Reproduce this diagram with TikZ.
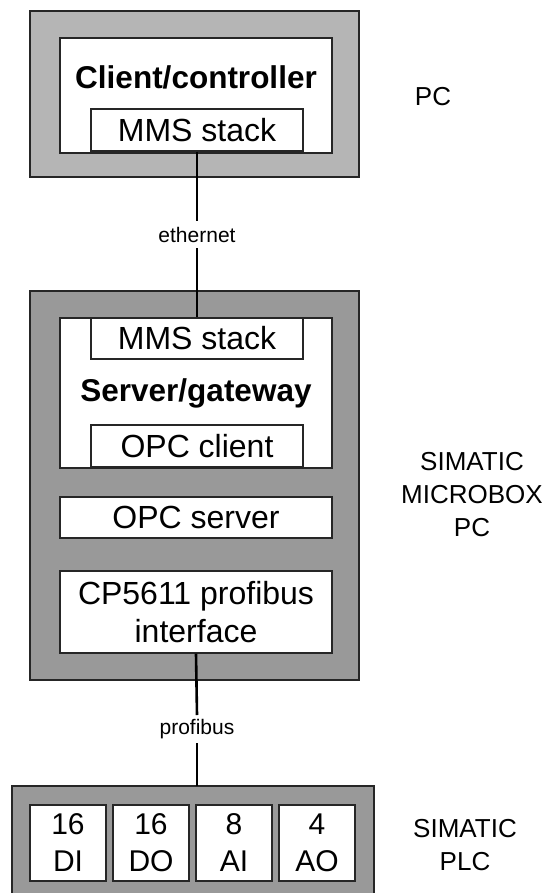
\documentclass[tikz,border=0pt]{standalone}
\usepackage{fontspec}
\setmainfont{Liberation Sans}
\definecolor{lightgrey}{gray}{0.71}
\definecolor{midgrey}{gray}{0.60}
\begin{document}
\begin{tikzpicture}[x=1pt,y=-1pt,
  outerbox/.style={draw=black!85,line width=1.3pt},
  whitebox/.style={draw=black!85,fill=white,line width=1.3pt},
  wire/.style={line width=2.6pt,black},
  bigbold/.style={font=\fontsize{31.5}{34}\selectfont\bfseries,inner sep=0pt},
  small/.style={font=\fontsize{21}{23}\selectfont,inner sep=0pt},
  side/.style={font=\fontsize{26}{33}\selectfont,align=center,inner sep=0pt}]
\useasboundingbox (0,0) rectangle (547,893);
% top PC
\draw[outerbox,fill=lightgrey] (30,11) rectangle (359,177);
\draw[whitebox] (60,38) rectangle (332,153);
\node[bigbold] (client) at (196,77) {Client/controller};
\node[whitebox,minimum width=212pt,minimum height=42pt,inner sep=0pt,font=\fontsize{32}{34}\selectfont] (mms1) at (197,130) {MMS stack};
% middle box
\draw[outerbox,fill=midgrey] (30,291) rectangle (359,680);
\draw[whitebox] (60,318) rectangle (332,468);
\node[whitebox,minimum width=212pt,minimum height=41pt,inner sep=0pt,font=\fontsize{32}{34}\selectfont] (mms2) at (197,338.5) {MMS stack};
\node[bigbold] (server) at (196,393) {Server/gateway};
\node[whitebox,minimum width=212pt,minimum height=42pt,inner sep=0pt,font=\fontsize{32}{34}\selectfont] (opcc) at (197,446) {OPC client};
\node[whitebox,minimum width=272pt,minimum height=41pt,inner sep=0pt,font=\fontsize{32}{34}\selectfont] (opcs) at (196,517.5) {OPC server};
\node[whitebox,minimum width=272pt,minimum height=82pt,inner sep=0pt,align=center,font=\fontsize{32}{38}\selectfont] (cp) at (196,612) {CP5611 profibus\\interface};
% bottom PLC
\draw[outerbox,fill=midgrey] (12,786) rectangle (374,900);
\foreach \n/\x/\a/\b in {di/68/16/DI, do/151/16/DO, ai/234/8/AI, ao/317/4/AO}{
  \node[whitebox,minimum width=76pt,minimum height=76pt,inner sep=0pt,align=center,font=\fontsize{30}{37}\selectfont] (\n) at (\x,843) {\a\\\b};
}
% wires
\node[small] (eth) at (197,235) {ethernet};
\node[small] (prof) at (197,729) {profibus};
\coordinate (ptop) at (197,786);
\draw[wire] (mms1.south) -- (197,221);
\draw[wire] (197,248) -- (mms2.north);
\draw[wire] (cp.south) -- (197,715);
\draw[wire] (197,743) -- (ptop);
% side labels
\node[side] (pc) at (433,97) {PC};
\node[side] (mbox) at (472,495) {SIMATIC\\MICROBOX\\PC};
\node[side] (plc) at (465,845) {SIMATIC\\PLC};
\end{tikzpicture}
\end{document}
